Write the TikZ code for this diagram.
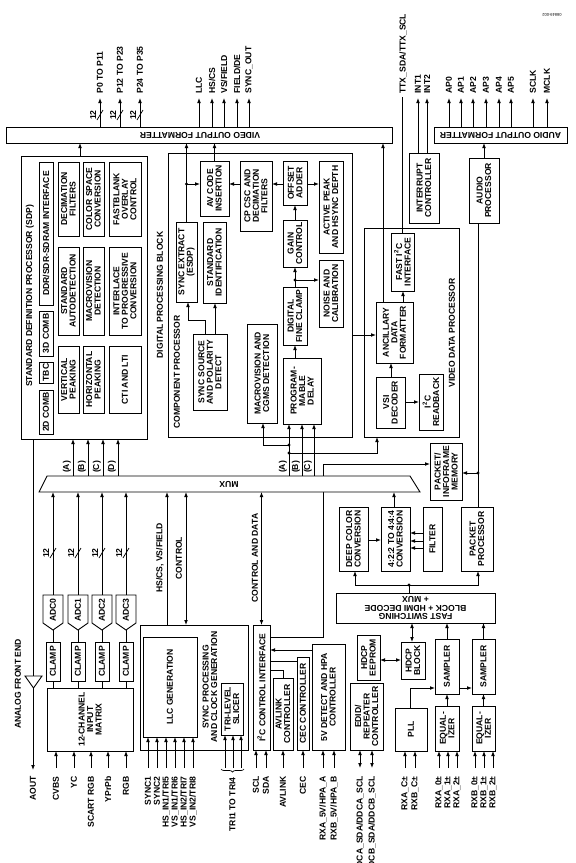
\documentclass[tikz,border=0pt]{standalone}
\usepackage{fontspec}
\setmainfont{Liberation Sans}
\usetikzlibrary{arrows.meta,calc,decorations.pathreplacing}
\newcommand\mybox[6]{\node[blk, minimum width={(#4)-(#2)}, minimum height={(#5)-(#3)}] (#1) at ({((#2)+(#4))/2},{((#3)+(#5))/2}) {};\node[lbl] (#1-t) at (#1.center) {#6};}
\newcommand\pinT[4]{\coordinate (#1) at (#2,98);\draw[arr] (#3.north -| #1) -- (#1);\node[lbl,anchor=west] (#1l) at (#2,94) {#4};}
\newcommand\pinB[4]{\coordinate (#1) at (#2,768);\draw[arr] (#1) -- (#3.south -| #1);\node[lbl,anchor=east] (#1l) at (#2,776) {#4};}
\newcommand\pinBD[4]{\coordinate (#1) at (#2,768);\draw[darr] (#1) -- (#3.south -| #1);\node[lbl,anchor=east] (#1l) at (#2,776) {#4};}
\newcommand\busmark[3]{\draw[line width=0.7pt] ({#2-3},{#3+5}) -- ({#2+3},{#3-5});\node[lbl] (#1) at ({#2-7},#3) {12};}
\begin{document}
\begin{tikzpicture}[x=1pt,y=-1pt,line width=0.9pt,
  blk/.style={draw,rectangle,inner sep=0pt,outer sep=0pt,fill=white},
  txt/.style={font=\fontsize{8.6}{8.5}\selectfont\bfseries,align=center,inner sep=0pt},
  lbl/.style={txt,rotate=90},
  arr/.style={-{Latex[length=5pt,width=3.8pt]}},
  darr/.style={{Latex[length=5pt,width=3.8pt]}-{Latex[length=5pt,width=3.8pt]}},
  dot/.style={circle,fill,inner sep=0pt,minimum size=3.4pt}]
\useasboundingbox (0,0) rectangle (576,863);
\coordinate (muxT) at (0,476);
\coordinate (muxB) at (0,492);

% ---------- formatters ----------
\mybox{vof}{6}{127}{392}{143}{}
\node[txt,rotate=180] (voft) at (200,135) {VIDEO OUTPUT FORMATTER};
\mybox{aof}{434}{127}{567}{143}{}
\node[txt,rotate=180] (aoft) at (500.5,135) {AUDIO OUTPUT FORMATTER};
\node[font=\fontsize{4}{4}\selectfont,rotate=180,inner sep=0pt] (fig) at (552,15) {08849-002};

% ---------- SDP ----------
\mybox{sdp}{21}{156}{147}{439}{}
\node[lbl] (sdpl) at (30,296) {STANDARD DEFINITION PROCESSOR (SDP)};
\mybox{ddr}{39}{162}{53}{305}{DDR/SDR-SDRAM INTERFACE}
\mybox{comb3}{39}{311}{53}{356}{3D COMB}
\mybox{tbc}{39}{362}{53}{383}{TBC}
\mybox{comb2}{39}{390}{53}{434}{2D COMB}
\mybox{decim}{58}{162}{79}{236}{DECIMATION\\FILTERS}
\mybox{stdauto}{58}{247}{79}{335}{STANDARD\\AUTODETECTION}
\mybox{vpeak}{58}{346}{79}{413}{VERTICAL\\PEAKING}
\mybox{csc}{83}{162}{104}{236}{COLOR SPACE\\CONVERSION}
\mybox{mvdet}{83}{247}{104}{335}{MACROVISION\\DETECTION}
\mybox{hpeak}{83}{346}{104}{413}{HORIZONTAL\\PEAKING}
\mybox{fb}{109}{162}{141}{236}{FASTBLANK\\OVERLAY\\CONTROL}
\mybox{i2p}{109}{247}{141}{335}{INTERLACE\\TO PROGRESSIVE\\CONVERSION}
\mybox{cti}{109}{346}{141}{413}{CTI AND LTI}
\node[lbl] (dpbl) at (160,295) {DIGITAL PROCESSING BLOCK};

% ---------- component processor ----------
\mybox{cp}{168}{153}{352}{437}{}
\node[lbl] (cpl) at (177,372) {COMPONENT PROCESSOR};
\mybox{sext}{176}{222}{197}{302}{SYNC EXTRACT\\(ESDP)}
\mybox{stdid}{203}{222}{226}{303}{STANDARD\\IDENTIFICATION}
\mybox{avc}{200}{161}{229}{216}{AV CODE\\INSERTION}
\mybox{cpcsc}{240}{161}{272}{231}{CP CSC AND\\DECIMATION\\FILTERS}
\mybox{offs}{283}{161}{307}{205}{OFFSET\\ADDER}
\mybox{apk}{319}{161}{343}{253}{ACTIVE PEAK\\AND HSYNC DEPTH}
\mybox{gain}{283}{220}{307}{267}{GAIN\\CONTROL}
\mybox{noise}{319}{260}{343}{327}{NOISE AND\\CALIBRATION}
\mybox{dfc}{283}{287}{307}{345}{DIGITAL\\FINE CLAMP}
\mybox{pdel}{283}{358}{321}{424}{PROGRAM-\\MABLE\\DELAY}
\mybox{mvcg}{247}{324}{277}{423}{MACROVISION AND\\CGMS DETECTION}
\mybox{ssp}{193}{334}{227}{410}{SYNC SOURCE\\AND POLARITY\\DETECT}

% ---------- video data processor ----------
\mybox{vdp}{364}{228}{459}{437}{}
\node[lbl] (vdpl) at (452,333) {VIDEO DATA PROCESSOR};
\mybox{fasti2c}{391}{233}{414}{291}{FAST I\textsuperscript{2}C\\INTERFACE}
\mybox{ancil}{376}{302}{413}{363}{ANCILLARY\\DATA\\FORMATTER}
\mybox{vsi}{376}{377}{405}{428}{VSI\\DECODER}
\mybox{i2crb}{419}{374}{443}{430}{I\textsuperscript{2}C\\READBACK}

\mybox{intc}{409}{153}{439}{223}{INTERRUPT\\CONTROLLER}
\mybox{audp}{469}{158}{499}{223}{AUDIO\\PROCESSOR}

% ---------- HDMI ----------
\mybox{mem}{430}{443}{462}{500}{PACKET/\\INFOFRAME\\MEMORY}
\mybox{dcc}{339}{507}{368}{571}{DEEP COLOR\\CONVERSION}
\mybox{c422}{381}{507}{410}{571}{4:2:2 TO 4:4:4\\CONVERSION}
\mybox{filt}{423}{507}{442}{571}{FILTER}
\mybox{pktp}{461}{507}{493}{571}{PACKET\\PROCESSOR}
\mybox{fsw}{336}{593}{495}{623}{}
\node[txt,rotate=180] (fswt) at (415.5,608) {FAST SWITCHING\\BLOCK + HDMI DECODE\\+ MUX};
\mybox{eeprom}{357}{635}{380}{680}{HDCP\\EEPROM}
\mybox{hdcp}{401}{642}{425}{679}{HDCP\\BLOCK}
\mybox{samp1}{435}{639}{459}{694}{SAMPLER}
\mybox{samp2}{472}{639}{495}{694}{SAMPLER}
\mybox{eq1}{435}{706}{459}{751}{EQUAL-\\IZER}
\mybox{eq2}{472}{706}{495}{751}{EQUAL-\\IZER}
\mybox{pll}{395}{708}{427}{751}{PLL}
\mybox{edid}{350}{683}{383}{750}{EDID/\\REPEATER\\CONTROLLER}

% ---------- control ----------
\mybox{i2cc}{253}{625}{270}{750}{I\textsuperscript{2}C CONTROL INTERFACE}
\mybox{avl}{273}{678}{293}{750}{AVLINK\\CONTROLLER}
\mybox{cec}{297}{657}{309}{750}{CEC CONTROLLER}
\mybox{v5}{312}{644}{345}{750}{5V DETECT AND HPA\\CONTROLLER}

% ---------- sync processing ----------
\mybox{sync}{140}{625}{248}{750}{}
\mybox{llc}{143}{637}{197}{737}{LLC GENERATION}
\node[lbl] (syncl) at (210,687) {SYNC PROCESSING\\AND CLOCK GENERATION};
\mybox{tls}{221}{683}{243}{735}{TRI-LEVEL\\SLICER}

% ---------- analog front end ----------
\mybox{matrix}{47}{688}{133}{751}{12-CHANNEL\\INPUT\\MATRIX}
\foreach \i/\c in {0/53,1/78,2/102,3/126}{
  \node[inner sep=0pt,outer sep=0pt,minimum width=20pt,minimum height=35pt] (adc\i) at (\c,612.5) {};
  \draw[fill=white] (adc\i.north west) -- (adc\i.north east) -- ($(adc\i.south east)+(0,-7)$) -- (adc\i.south) -- ($(adc\i.south west)+(0,-7)$) -- cycle;
  \node[lbl] (adc\i t) at (\c,610) {ADC\i};
  \mybox{clamp\i}{\c-7}{642}{\c+7}{681}{CLAMP}
  \draw (adc\i.south) -- (clamp\i.north);
  \draw (clamp\i.south) -- (matrix.north -| clamp\i.south);
  \draw[arr] (adc\i.north) -- (muxB -| adc\i.north);
  \busmark{bb\i}{\c}{553}
}
\node[lbl] (afe) at (18,684) {ANALOG FRONT END};
\coordinate (aout) at (33,770);
\draw[arr] (sdp.south -| aout) -- (aout);
\draw[fill=white] (25,676) -- (42,676) -- (33.5,688) -- cycle;
\node[lbl,anchor=east] (aoutl) at (33,776) {AOUT};
\pinB{iCVBS}{56}{matrix}{CVBS}
\pinB{iYC}{74}{matrix}{YC}
\pinB{iSC}{91}{matrix}{SCART RGB}
\pinB{iYP}{108}{matrix}{YPrPb}
\pinB{iRGB}{126}{matrix}{RGB}

% ---------- top outputs ----------
\draw[arr] (sdp.north -| 80,0) -- (vof.south -| 80,0);
\pinT{p0}{100}{vof}{P0 TO P11}
\pinT{p12}{120}{vof}{P12 TO P23}
\pinT{p24}{140}{vof}{P24 TO P35}
\busmark{bp0}{100}{115}
\busmark{bp1}{120}{115}
\busmark{bp2}{140}{115}
\pinT{oLLC}{199}{vof}{LLC}
\pinT{oHS}{212}{vof}{HS/CS}
\pinT{oVS}{224}{vof}{VS/FIELD}
\pinT{oFD}{237}{vof}{FIELD/DE}
\pinT{oSO}{249}{vof}{SYNC\_OUT}
\coordinate (ttx) at (402,97);
\draw (fasti2c.north -| ttx) -- (ttx);
\node[lbl,anchor=west] (ttxl) at (403,94) {TTX\_SDA/TTX\_SCL};
\pinT{int1}{418}{intc}{INT1}
\pinT{int2}{427}{intc}{INT2}
\pinT{ap0}{449}{aof}{AP0}
\pinT{ap1}{461}{aof}{AP1}
\pinT{ap2}{473}{aof}{AP2}
\pinT{ap3}{486}{aof}{AP3}
\pinT{ap4}{499}{aof}{AP4}
\pinT{ap5}{511}{aof}{AP5}
\pinT{sclk}{533}{aof}{SCLK}
\pinT{mclk}{547}{aof}{MCLK}
\draw[arr] (audp.north) -- (aof.south -| audp.north);

% ---------- component processor connections ----------
\draw[arr] (sext.north) -- (vof.south -| sext.north);
\node[dot] (d1) at (186.5,184) {};
\draw[arr] (d1.center) -- (avc.west |- d1.center);
\draw[arr] (avc.north) -- (vof.south -| avc.north);
\draw[arr] (cpcsc.west |- 0,184) -- (avc.east |- 0,184);
\draw[arr] (offs.west |- 0,184) -- (cpcsc.east |- 0,184);
\draw[arr] (offs.east |- 0,184) -- (apk.west |- 0,184);
\draw[arr] (gain.north) -- (offs.south);
\draw[arr] (dfc.north) -- (gain.south);
\node[dot] (d2) at (295,280) {};
\draw[arr] (d2.center) -- (noise.west |- d2.center);
\draw[arr] (pdel.north -| 295,0) -- (dfc.south);
\draw[arr] (ssp.north -| 205,0) |- (188,320) -- (sext.south -| 188,0);
\draw[arr] (ssp.north -| 215,0) -- (stdid.south -| 215,0);
\draw[arr] (muxT -| 289,0) -- (pdel.south -| 289,0);
\draw[arr] (muxT -| 302,0) -- (pdel.south -| 302,0);
\draw[arr] (muxT -| 314,0) -- (pdel.south -| 314,0);
\node[dot] (dA1) at (289,445) {};
\node[dot] (dA2) at (289,453) {};
\draw[arr] (dA1.center) -| (mvcg.south -| 263,0);
\draw[arr] (dA2.center) -| (vdp.south -| 377,0);
\node[lbl] (cA) at (283,467) {(A)};
\node[lbl] (cB) at (296,467) {(B)};
\node[lbl] (cC) at (308,467) {(C)};
\draw[arr] (cp.east |- 0,335) -- (ancil.west |- 0,335);

% ---------- VDP connections ----------
\draw[arr] (ancil.north -| 383,0) -- (vof.south -| 383,0);
\draw[arr] (ancil.north -| 403,0) -- (fasti2c.south -| 403,0);
\draw[arr] (vsi.north -| 391,0) -- (ancil.south -| 391,0);
\draw[arr] (vsi.east |- 0,402) -- (i2crb.west |- 0,402);

% ---------- SDP inputs ----------
\foreach \x/\l in {73/A,88/B,103/C,118/D}{
  \draw[arr] (muxT -| \x,0) -- (sdp.south -| \x,0);
  \node[lbl] (s\l) at (\x-6,467) {(\l)};
}

% ---------- HDMI connections ----------
\draw[arr] (dcc.east |- 0,540) -- (c422.west |- 0,540);
\draw[arr] (c422.north -| 394,0) -- (muxB -| 394,0);
\foreach \yy in {533,541,548}{\draw[arr] (filt.west |- 0,\yy) -- (c422.east |- 0,\yy);}
\node[dot] (d5) at (409,585) {};
\draw (fsw.north -| d5) -- (d5.center);
\draw[arr] (d5.center) -| (dcc.south -| 355,0);
\draw[arr] (d5.center) -| (pktp.south -| 478,0);
\node[dot] (d6) at (478,473) {};
\draw (pktp.north -| 478,0) -- (audp.south -| 478,0);
\draw[arr] (d6.center) -- (mem.east |- d6.center);
\draw[darr] (eeprom.east |- 0,660) -- (hdcp.west |- 0,660);
\draw[darr] (hdcp.north -| 412,0) -- (fsw.south -| 412,0);
\draw[arr] (samp1.north) -- (fsw.south -| samp1.north);
\draw[arr] (samp2.north) -- (fsw.south -| samp2.north);
\draw[arr] (eq1.north) -- (samp1.south);
\draw[arr] (eq2.north) -- (samp2.south);
\draw[arr] (pll.north -| 410,0) |- (samp1.west |- 0,688);
\draw[arr] (samp1.east |- 0,688) -- (samp2.west |- 0,688);
\pinB{rac}{405}{pll}{RXA\_C±}
\pinB{rbc}{415}{pll}{RXB\_C±}
\pinB{ra0}{439}{eq1}{RXA\_0±}
\pinB{ra1}{448}{eq1}{RXA\_1±}
\pinB{ra2}{457}{eq1}{RXA\_2±}
\pinB{rb0}{475}{eq2}{RXB\_0±}
\pinB{rb1}{484}{eq2}{RXB\_1±}
\pinB{rb2}{493}{eq2}{RXB\_2±}
\pinBD{ddca}{360}{edid}{DDCA\_SDA/DDCA\_SCL}
\pinBD{ddcb}{372}{edid}{DDCB\_SDA/DDCB\_SCL}

% ---------- control connections ----------
\draw[darr] (i2cc.north) -- (muxB -| i2cc.north);
\node[lbl] (cdl) at (255,558) {CONTROL AND DATA};
\draw[arr] (i2cc.east |- 0,637) -| (323,464) -- (mem.west |- 0,464);
\draw (avl.north -| 283,0) |- (i2cc.east |- 0,670);
\draw (cec.west |- 0,661) -- (i2cc.east |- 0,661);
\draw[arr] (v5.west |- 0,650) -- (i2cc.east |- 0,650);
\pinB{scl}{256}{i2cc}{SCL}
\pinB{sda}{266}{i2cc}{SDA}
\pinB{avlink}{283}{avl}{AVLINK}
\pinB{cecp}{303}{cec}{CEC}
\pinB{hpaa}{323}{v5}{RXA\_5V/HPA\_A}
\pinB{hpab}{334}{v5}{RXB\_5V/HPA\_B}

% ---------- sync connections ----------
\draw[arr] (sync.north -| 167,0) -- (muxB -| 167,0);
\node[lbl] (hsl) at (160,558) {HS/CS, VS/FIELD};
\draw[darr] (sync.north -| 186,0) -- (muxB -| 186,0);
\node[lbl] (ctl) at (179,558) {CONTROL};
\pinB{sy1}{148}{llc}{SYNC1}
\pinB{sy2}{157}{llc}{SYNC2}
\pinB{hs1}{166}{llc}{HS\_IN1/TRI5}
\pinB{vs1}{175}{llc}{VS\_IN1/TRI6}
\pinB{hs2}{184}{llc}{HS\_IN2/TRI7}
\pinB{vs2}{193}{llc}{VS\_IN2/TRI8}
\foreach \x in {225,233,241}{\draw[arr] (\x,768) -- (tls.south -| \x,0);}
\draw[line width=0.7pt,decorate,decoration={brace,amplitude=3pt}] (244,769) -- (221,769);
\node[lbl,anchor=east] (tril) at (232.5,777) {TRI1 TO TRI4};

% ---------- mux ----------
\draw[fill=white] (47,476) -- (410,476) -- (420,492) -- (39,492) -- cycle;
\node[txt,rotate=180] (muxl) at (229,484) {MUX};
\end{tikzpicture}
\end{document}
